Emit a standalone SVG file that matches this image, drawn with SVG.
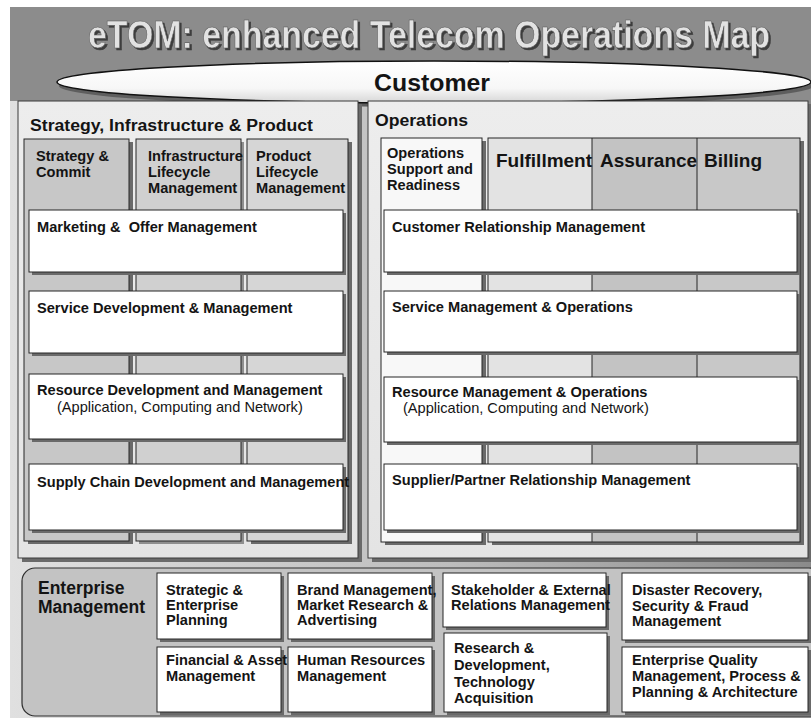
<svg xmlns="http://www.w3.org/2000/svg" width="811" height="718" viewBox="0 0 811 718">
  <defs>
    <linearGradient id="lowerBg" x1="0" y1="0" x2="1" y2="0">
      <stop offset="0" stop-color="#e0e0e0"/>
      <stop offset="0.55" stop-color="#bdbdbd"/>
      <stop offset="1" stop-color="#8a8a8a"/>
    </linearGradient>
    <linearGradient id="ovalFill" x1="0" y1="0" x2="0" y2="1">
      <stop offset="0" stop-color="#ffffff"/>
      <stop offset="0.65" stop-color="#f7f7f7"/>
      <stop offset="1" stop-color="#d6d6d6"/>
    </linearGradient>
    <linearGradient id="panelFill" x1="0" y1="0" x2="0" y2="1">
      <stop offset="0" stop-color="#ededed"/>
      <stop offset="1" stop-color="#e4e4e4"/>
    </linearGradient>
    <filter id="titleShadow" x="-5%" y="-30%" width="110%" height="160%">
      <feOffset in="SourceAlpha" dx="2" dy="2" result="off"/>
      <feFlood flood-color="#3e3e3e"/>
      <feComposite in2="off" operator="in" result="shadow"/>
      <feMerge>
        <feMergeNode in="shadow"/>
        <feMergeNode in="SourceGraphic"/>
      </feMerge>
    </filter>
  </defs>
  <style>
    text { font-family: "Liberation Sans", Arial, Helvetica, sans-serif; fill: #141414; }
    .lbl { font-size: 14.6px; font-weight: bold; }
    .lbl-r { font-size: 14.6px; }
    .big { font-size: 19px; font-weight: bold; }
    .panel-title { font-size: 16px; font-weight: bold; }
    .em-title { font-size: 17.5px; font-weight: bold; }
    .sh { fill: #6a6a6a; }
    .sh-lt { fill: #8f8f8f; }
    .box { fill: #ffffff; stroke: #262626; stroke-width: 1; }
    .panel { fill: url(#panelFill); stroke: #3a3a3a; stroke-width: 1; }
    .col { stroke: #262626; stroke-width: 1; }
  </style>

  <!-- backdrop -->
  <rect x="10" y="7" width="801" height="711" fill="url(#lowerBg)"/>
  <rect x="10" y="7" width="801" height="94" fill="#8c8c8c"/>

  <!-- title -->
  <g id="title" filter="url(#titleShadow)">
    <text transform="translate(88,48) scale(1,1.12)" x="0" y="0" font-size="34" font-weight="bold" textLength="682" lengthAdjust="spacingAndGlyphs" style="fill:#e2e2e2;stroke:#5a5a5a;stroke-width:0.5">eTOM: enhanced Telecom Operations Map</text>
  </g>

  <!-- customer oval -->
  <g id="customer">
    <ellipse cx="436" cy="86" rx="377" ry="21" fill="#5e5e5e"/>
    <ellipse cx="434" cy="82" rx="377" ry="21" fill="url(#ovalFill)" stroke="#111" stroke-width="1.5"/>
    <text x="432" y="91" font-size="23" font-weight="bold" text-anchor="middle" textLength="116" lengthAdjust="spacingAndGlyphs">Customer</text>
  </g>

  <!-- Strategy, Infrastructure & Product -->
  <g id="sip">
    <rect x="22" y="104" width="340" height="458" class="sh"/>
    <rect x="18" y="101" width="340" height="457" class="panel"/>
    <text x="30" y="131" class="panel-title" textLength="283" lengthAdjust="spacingAndGlyphs">Strategy, Infrastructure &amp; Product</text>

    <g id="col-strategy-commit">
      <rect x="28" y="142" width="105" height="402" class="sh"/>
      <rect x="24" y="139" width="105" height="402" fill="#c7c7c7" class="col"/>
      <text class="lbl" x="36" y="161">Strategy &amp;</text>
      <text class="lbl" x="36" y="177">Commit</text>
    </g>
    <g id="col-infrastructure">
      <rect x="139" y="142" width="105" height="402" class="sh-lt"/>
      <rect x="136" y="139" width="105" height="402" fill="#d0d0d0" class="col"/>
      <text class="lbl" x="148" y="161">Infrastructure</text>
      <text class="lbl" x="148" y="177">Lifecycle</text>
      <text class="lbl" x="148" y="193">Management</text>
    </g>
    <g id="col-product">
      <rect x="251" y="142" width="101" height="402" class="sh"/>
      <rect x="247" y="139" width="101" height="402" fill="#d6d6d6" class="col"/>
      <text class="lbl" x="256" y="161">Product</text>
      <text class="lbl" x="256" y="177">Lifecycle</text>
      <text class="lbl" x="256" y="193">Management</text>
    </g>

    <g id="marketing-offer">
      <rect x="32" y="213" width="314" height="62" class="sh"/>
      <rect x="29" y="210" width="314" height="62" class="box"/>
      <text class="lbl" x="37" y="232" xml:space="preserve">Marketing &amp;  Offer Management</text>
    </g>
    <g id="service-development">
      <rect x="32" y="294" width="314" height="62" class="sh"/>
      <rect x="29" y="291" width="314" height="62" class="box"/>
      <text class="lbl" x="37" y="313">Service Development &amp; Management</text>
    </g>
    <g id="resource-development">
      <rect x="32" y="377" width="314" height="65" class="sh"/>
      <rect x="29" y="374" width="314" height="65" class="box"/>
      <text class="lbl" x="37" y="395">Resource Development and Management</text>
      <text class="lbl-r" x="57" y="412">(Application, Computing and Network)</text>
    </g>
    <g id="supply-chain">
      <rect x="32" y="467" width="314" height="66" class="sh"/>
      <rect x="29" y="464" width="314" height="66" class="box"/>
      <text class="lbl" x="37" y="487">Supply Chain Development and Management</text>
    </g>
  </g>

  <!-- Operations -->
  <g id="operations">
    <rect x="372" y="104" width="440" height="458" class="sh"/>
    <rect x="368" y="101" width="440" height="457" class="panel"/>
    <text x="375" y="126" class="panel-title" textLength="93" lengthAdjust="spacingAndGlyphs">Operations</text>

    <g id="col-osr">
      <rect x="385" y="141" width="101" height="404" class="sh"/>
      <rect x="381" y="138" width="101" height="404" fill="#f8f8f8" class="col"/>
      <text class="lbl" x="387" y="158">Operations</text>
      <text class="lbl" x="387" y="174">Support and</text>
      <text class="lbl" x="387" y="190">Readiness</text>
    </g>
    <g id="col-fab">
      <rect x="492" y="141" width="312" height="404" class="sh"/>
      <rect x="488" y="138" width="104" height="404" fill="#e3e3e3"/>
      <rect x="592" y="138" width="105" height="404" fill="#c3c3c3"/>
      <rect x="697" y="138" width="103" height="404" fill="#c8c8c8"/>
      <rect x="488" y="138" width="312" height="404" fill="none" class="col"/>
      <line x1="592" y1="138" x2="592" y2="542" class="col"/>
      <line x1="697" y1="138" x2="697" y2="542" class="col"/>
      <text class="big" x="496" y="167">Fulfillment</text>
      <text class="big" x="600" y="167">Assurance</text>
      <text class="big" x="704" y="167">Billing</text>
    </g>

    <g id="crm">
      <rect x="387" y="213" width="413" height="62" class="sh"/>
      <rect x="384" y="210" width="413" height="62" class="box"/>
      <text class="lbl" x="392" y="232">Customer Relationship Management</text>
    </g>
    <g id="service-mgmt">
      <rect x="387" y="294" width="413" height="61" class="sh"/>
      <rect x="384" y="291" width="413" height="61" class="box"/>
      <text class="lbl" x="392" y="312">Service Management &amp; Operations</text>
    </g>
    <g id="resource-mgmt">
      <rect x="387" y="380" width="413" height="65" class="sh"/>
      <rect x="384" y="377" width="413" height="65" class="box"/>
      <text class="lbl" x="392" y="397">Resource Management &amp; Operations</text>
      <text class="lbl-r" x="403" y="413">(Application, Computing and Network)</text>
    </g>
    <g id="spm">
      <rect x="387" y="467" width="413" height="66" class="sh"/>
      <rect x="384" y="464" width="413" height="66" class="box"/>
      <text class="lbl" x="392" y="485">Supplier/Partner Relationship Management</text>
    </g>
  </g>

  <!-- Enterprise Management -->
  <g id="enterprise">
    <rect x="22" y="568" width="800" height="148" rx="13" ry="13" fill="#c3c3c3" stroke="#2e2e2e" stroke-width="1.2"/>
    <text class="em-title" x="38" y="594">Enterprise</text>
    <text class="em-title" x="38" y="613">Management</text>

    <g id="strategic-planning">
      <rect x="160" y="576" width="124" height="66" class="sh"/>
      <rect x="157" y="573" width="124" height="66" class="box"/>
      <text class="lbl" x="166" y="595">Strategic &amp;</text>
      <text class="lbl" x="166" y="610">Enterprise</text>
      <text class="lbl" x="166" y="625">Planning</text>
    </g>
    <g id="financial-asset">
      <rect x="160" y="650" width="124" height="65" class="sh"/>
      <rect x="157" y="647" width="124" height="65" class="box"/>
      <text class="lbl" x="166" y="665">Financial &amp; Asset</text>
      <text class="lbl" x="166" y="681">Management</text>
    </g>
    <g id="brand-management">
      <rect x="291" y="576" width="144" height="66" class="sh"/>
      <rect x="288" y="573" width="144" height="66" class="box"/>
      <text class="lbl" x="297" y="595">Brand Management,</text>
      <text class="lbl" x="297" y="610">Market Research &amp;</text>
      <text class="lbl" x="297" y="625">Advertising</text>
    </g>
    <g id="human-resources">
      <rect x="291" y="650" width="144" height="65" class="sh"/>
      <rect x="288" y="647" width="144" height="65" class="box"/>
      <text class="lbl" x="297" y="665">Human Resources</text>
      <text class="lbl" x="297" y="681">Management</text>
    </g>
    <g id="stakeholder">
      <rect x="446" y="576" width="163" height="54" class="sh"/>
      <rect x="443" y="573" width="163" height="54" class="box"/>
      <text class="lbl" x="451" y="595">Stakeholder &amp; External</text>
      <text class="lbl" x="451" y="610">Relations Management</text>
    </g>
    <g id="research-development">
      <rect x="447" y="636" width="163" height="79" class="sh"/>
      <rect x="444" y="633" width="163" height="79" class="box"/>
      <text class="lbl" x="454" y="653">Research &amp;</text>
      <text class="lbl" x="454" y="670">Development,</text>
      <text class="lbl" x="454" y="687">Technology</text>
      <text class="lbl" x="454" y="703">Acquisition</text>
    </g>
    <g id="disaster-recovery">
      <rect x="625" y="576" width="186" height="67" class="sh"/>
      <rect x="622" y="573" width="186" height="67" class="box"/>
      <text class="lbl" x="632" y="595">Disaster Recovery,</text>
      <text class="lbl" x="632" y="611">Security &amp; Fraud</text>
      <text class="lbl" x="632" y="626">Management</text>
    </g>
    <g id="enterprise-quality">
      <rect x="625" y="650" width="186" height="65" class="sh"/>
      <rect x="622" y="647" width="186" height="65" class="box"/>
      <text class="lbl" x="632" y="665">Enterprise Quality</text>
      <text class="lbl" x="632" y="681">Management, Process &amp;</text>
      <text class="lbl" x="632" y="697">Planning &amp; Architecture</text>
    </g>
  </g>
</svg>
